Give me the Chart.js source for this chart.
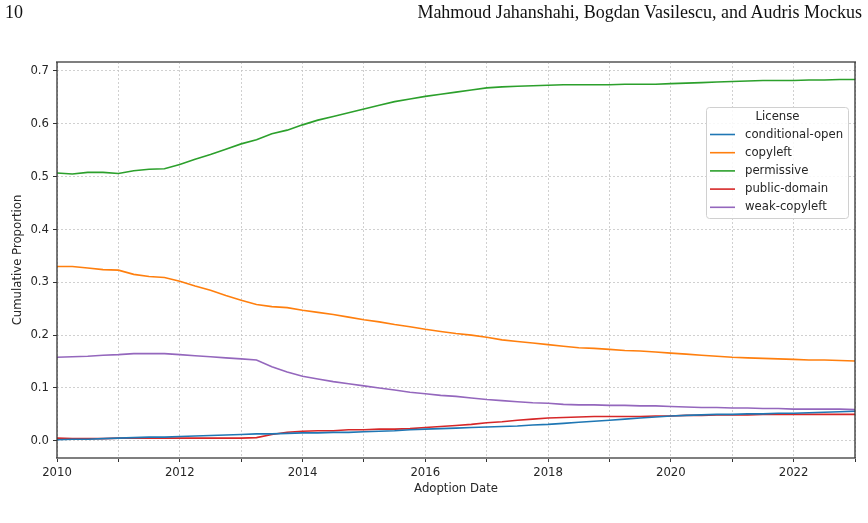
<!DOCTYPE html>
<html>
<head>
<meta charset="utf-8">
<script src="https://cdn.jsdelivr.net/npm/chart.js@4/dist/chart.umd.min.js"></script>
<style>
  html, body { margin: 0; padding: 0; background: #fff; }
  #wrap { position: relative; width: 868px; height: 523px; overflow: hidden; }
  #chart { position: absolute; left: 0; top: 0; }
  .hdr { position: absolute; top: 2px; font-family: "Liberation Serif", "DejaVu Serif", serif; font-size: 18px; color: #111; white-space: nowrap; }
  #pg { left: 5px; }
  #auth { right: 6px; }
</style>
</head>
<body>
<div id="wrap">
  <canvas id="chart" width="868" height="523"></canvas>
  <div class="hdr" id="pg">10</div>
  <div class="hdr" id="auth">Mahmoud Jahanshahi, Bogdan Vasilescu, and Audris Mockus</div>
</div>
<script>
// ---- Data (quarterly adoption dates) ----
const dates = [
  2010.00, 2010.25, 2010.50, 2010.75, 2011.00, 2011.25, 2011.50, 2011.75,
  2012.00, 2012.25, 2012.50, 2012.75, 2013.00, 2013.25, 2013.50, 2013.75,
  2014.00, 2014.25, 2014.50, 2014.75, 2015.00, 2015.25, 2015.50, 2015.75,
  2016.00, 2016.25, 2016.50, 2016.75, 2017.00, 2017.25, 2017.50, 2017.75,
  2018.00, 2018.25, 2018.50, 2018.75, 2019.00, 2019.25, 2019.50, 2019.75,
  2020.00, 2020.25, 2020.50, 2020.75, 2021.00, 2021.25, 2021.50, 2021.75,
  2022.00, 2022.25, 2022.50, 2022.75, 2023.00
];
const conditionalOpen = [
  0.002, 0.003, 0.003, 0.004, 0.005, 0.006, 0.007, 0.007,
  0.008, 0.009, 0.010, 0.011, 0.012, 0.013, 0.013, 0.014,
  0.015, 0.015, 0.016, 0.016, 0.017, 0.018, 0.019, 0.021,
  0.022, 0.023, 0.024, 0.025, 0.026, 0.027, 0.028, 0.030,
  0.031, 0.033, 0.035, 0.037, 0.039, 0.041, 0.043, 0.045,
  0.047, 0.048, 0.049, 0.050, 0.050, 0.051, 0.051, 0.052,
  0.052, 0.053, 0.054, 0.055, 0.056
];
const copyleft = [
  0.330, 0.330, 0.327, 0.324, 0.323, 0.315, 0.311, 0.309,
  0.302, 0.293, 0.285, 0.275, 0.266, 0.258, 0.254, 0.252,
  0.247, 0.243, 0.239, 0.234, 0.229, 0.225, 0.220, 0.216,
  0.211, 0.207, 0.203, 0.200, 0.196, 0.191, 0.188, 0.185,
  0.182, 0.179, 0.176, 0.175, 0.173, 0.171, 0.170, 0.168,
  0.166, 0.164, 0.162, 0.160, 0.158, 0.157, 0.156, 0.155,
  0.154, 0.153, 0.153, 0.152, 0.151
];
const permissive = [
  0.507, 0.505, 0.508, 0.508, 0.506, 0.511, 0.514, 0.515,
  0.523, 0.533, 0.542, 0.552, 0.562, 0.570, 0.581, 0.588,
  0.598, 0.607, 0.614, 0.621, 0.628, 0.635, 0.642, 0.647,
  0.652, 0.656, 0.660, 0.664, 0.668, 0.670, 0.671, 0.672,
  0.673, 0.674, 0.674, 0.674, 0.674, 0.675, 0.675, 0.675,
  0.676, 0.677, 0.678, 0.679, 0.680, 0.681, 0.682, 0.682,
  0.682, 0.683, 0.683, 0.684, 0.684
];
const publicDomain = [
  0.005, 0.004, 0.004, 0.004, 0.005, 0.005, 0.005, 0.005,
  0.005, 0.005, 0.005, 0.005, 0.005, 0.006, 0.012, 0.016,
  0.018, 0.019, 0.019, 0.021, 0.021, 0.022, 0.022, 0.023,
  0.025, 0.027, 0.029, 0.031, 0.034, 0.036, 0.039, 0.041,
  0.043, 0.044, 0.045, 0.046, 0.046, 0.046, 0.046, 0.047,
  0.047, 0.048, 0.048, 0.049, 0.049, 0.049, 0.050, 0.050,
  0.050, 0.050, 0.050, 0.050, 0.050
];
const weakCopyleft = [
  0.158, 0.159, 0.160, 0.162, 0.163, 0.165, 0.165, 0.165,
  0.163, 0.161, 0.159, 0.157, 0.155, 0.153, 0.140, 0.130,
  0.122, 0.117, 0.112, 0.108, 0.104, 0.100, 0.096, 0.092,
  0.089, 0.086, 0.084, 0.081, 0.078, 0.076, 0.074, 0.072,
  0.071, 0.069, 0.068, 0.068, 0.067, 0.067, 0.066, 0.066,
  0.065, 0.064, 0.063, 0.063, 0.062, 0.062, 0.061, 0.061,
  0.060, 0.060, 0.060, 0.060, 0.059
];
const seriesNames = ["conditional-open", "copyleft", "permissive", "public-domain", "weak-copyleft"];
const seriesValues = [conditionalOpen, copyleft, permissive, publicDomain, weakCopyleft];
const seriesColors = ["#1f77b4", "#ff7f0e", "#2ca02c", "#d62728", "#9467bd"];
const yTickValues = [0.0, 0.1, 0.2, 0.3, 0.4, 0.5, 0.6, 0.7];
const xTickValues = [2010, 2011, 2012, 2013, 2014, 2015, 2016, 2017, 2018, 2019, 2020, 2021, 2022, 2023];
const xLabeled = [2010, 2012, 2014, 2016, 2018, 2020, 2022];
const legendTitle = "License";

const FONT = "'DejaVu Sans', sans-serif";
const FS = 11.7;

const datasets = seriesNames.map((name, i) => ({
  label: name,
  data: dates.map((d, j) => ({ x: d, y: seriesValues[i][j] })),
  borderColor: seriesColors[i],
  backgroundColor: seriesColors[i],
  borderWidth: 1.6,
  pointRadius: 0,
  tension: 0,
  fill: false
}));

const framePlugin = {
  id: 'frame',
  afterDraw(chart) {
    const { ctx, chartArea: a } = chart;
    ctx.save();
    ctx.strokeStyle = '#7f7f7f';
    ctx.lineWidth = 2;
    ctx.beginPath();
    ctx.moveTo(a.left - 1, a.top); ctx.lineTo(a.right + 1, a.top);
    ctx.moveTo(a.left - 1, a.bottom); ctx.lineTo(a.right + 1, a.bottom);
    ctx.stroke();
    ctx.strokeStyle = '#333';
    ctx.lineWidth = 1.3;
    ctx.beginPath();
    ctx.moveTo(a.left, a.top); ctx.lineTo(a.left, a.bottom);
    ctx.moveTo(a.right, a.top); ctx.lineTo(a.right, a.bottom);
    ctx.stroke();

    // legend (matplotlib style, inside plot area)
    const bx = 706.5, by = 107.5, bw = 142, bh = 111;
    ctx.fillStyle = 'rgba(255,255,255,0.85)';
    ctx.strokeStyle = '#d0d0d0';
    ctx.lineWidth = 1;
    ctx.beginPath();
    if (ctx.roundRect) ctx.roundRect(bx, by, bw, bh, 3); else ctx.rect(bx, by, bw, bh);
    ctx.fill(); ctx.stroke();
    ctx.font = FS + 'px ' + FONT;
    ctx.fillStyle = '#262626';
    ctx.textBaseline = 'middle';
    ctx.textAlign = 'center';
    ctx.fillText(legendTitle, bx + bw / 2, 117);
    ctx.textAlign = 'left';
    chart.data.datasets.forEach((ds, i) => {
      const y = 134.5 + i * 18.2;
      ctx.strokeStyle = ds.borderColor;
      ctx.lineWidth = 1.6;
      ctx.beginPath();
      ctx.moveTo(710, y); ctx.lineTo(735, y);
      ctx.stroke();
      ctx.fillStyle = '#262626';
      ctx.fillText(ds.label, 745, y);
    });
    ctx.restore();
  }
};

new Chart(document.getElementById('chart'), {
  type: 'line',
  data: { datasets },
  options: {
    responsive: false,
    animation: false,
    layout: { padding: { top: 62, right: 13, bottom: 0, left: 0 } },
    plugins: { legend: { display: false }, tooltip: { enabled: false } },
    scales: {
      x: {
        type: 'linear',
        min: 2010, max: 2023,
        afterBuildTicks(scale) { scale.ticks = xTickValues.map(v => ({ value: v })); },
        afterFit(scale) { scale.height = 65; },
        ticks: {
          autoSkip: false, maxRotation: 0,
          padding: 4,
          color: '#262626',
          font: { family: FONT, size: FS },
          callback: (v) => xLabeled.includes(v) ? String(v) : ''
        },
        grid: { color: '#c4c4c4', lineWidth: 0.8, tickLength: 4, tickColor: '#333', tickWidth: 1, tickBorderDash: [] },
        border: { display: false, dash: [2, 2] },
        title: { display: true, text: 'Adoption Date', color: '#262626', font: { family: FONT, size: FS }, padding: { top: 0, bottom: 27 } }
      },
      y: {
        type: 'linear',
        min: -0.0326, max: 0.717,
        afterBuildTicks(scale) { scale.ticks = yTickValues.map(v => ({ value: v })); },
        afterFit(scale) { scale.width = 57; },
        ticks: {
          padding: 4,
          color: '#262626',
          font: { family: FONT, size: FS },
          callback: (v) => Number(v).toFixed(1)
        },
        grid: { color: '#c4c4c4', lineWidth: 0.8, tickLength: 4, tickColor: '#333', tickWidth: 1, tickBorderDash: [] },
        border: { display: false, dash: [2, 2] },
        title: { display: true, text: 'Cumulative Proportion', color: '#262626', font: { family: FONT, size: FS }, padding: { top: 11, bottom: 0 } }
      }
    }
  },
  plugins: [framePlugin]
});
</script>
</body>
</html>
